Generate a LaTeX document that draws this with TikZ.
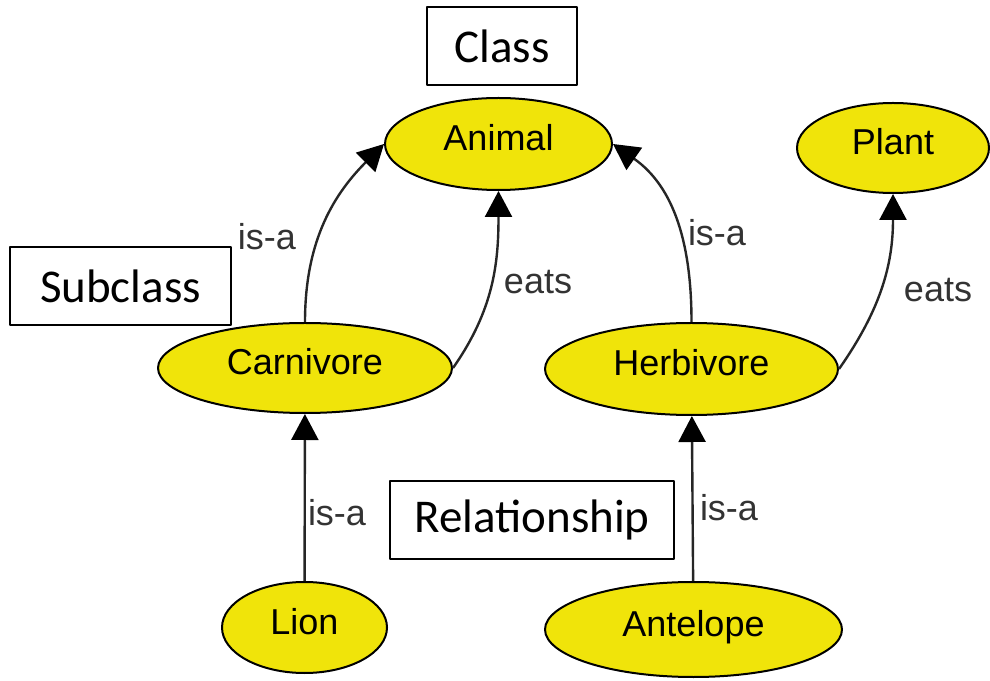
\documentclass[tikz,border=0pt]{standalone}
\usepackage{fontspec}
\setmainfont{Liberation Sans}
\newfontfamily\calloutfont{Carlito}
\usetikzlibrary{%
  arrows.meta,%
  shapes.geometric% wg. ellipse
}
\definecolor{conceptyellow}{RGB}{240,228,10}

\begin{document}
\begin{tikzpicture}[
    x=0.5pt,y=0.5pt,
    >={Triangle[length=13pt,width=13.5pt,color=black]},
    line join=round,
    concept/.style={ellipse,draw,line width=1pt,fill=conceptyellow,inner sep=0pt,
        font=\fontsize{18pt}{20pt}\selectfont,text height=13pt,text depth=6pt},
    relation/.style={->,line width=1.2pt,draw=black!85},
    rellabel/.style={font=\fontsize{18pt}{20pt}\selectfont,text=black!80},
    callout/.style={rectangle,draw,line width=0.8pt,fill=white,inner sep=0pt,
        minimum height=39pt,font=\calloutfont\fontsize{23.5pt}{26pt}\selectfont}
  ]
    \useasboundingbox (0,0) rectangle (990,680);

    % concepts
    \node (animal) [concept,minimum width=113.5pt,minimum height=46pt] at (498.5,536) {Animal};
    \node (plant)  [concept,minimum width=96pt,minimum height=45pt]    at (893,532)   {Plant};
    \node (carn)   [concept,minimum width=147pt,minimum height=45pt]   at (305,312)   {Carnivore};
    \node (herb)   [concept,minimum width=146.5pt,minimum height=46pt] at (691.5,311) {Herbivore};
    \node (lion)   [concept,minimum width=82.5pt,minimum height=45.5pt] at (304.5,52.5) {Lion};
    \node (ante)   [concept,minimum width=148.5pt,minimum height=47.5pt] at (693.5,50.5) {Antelope};

    \begin{scope}[relation]
        \draw (carn.north) to[out=90,in=225] (animal.west);
        \draw (carn.east)  to[out=55,in=-90] (animal.south);
        \draw (herb.north) to[out=90,in=-35] (animal.east);
        \draw (herb.east)  to[out=55,in=-90] (plant.south);
        \draw (lion) -- (carn);
        \draw (ante) -- (herb);
    \end{scope}

    \node (isa1)  [rellabel] at (267,443) {is-a};
    \node (eats1) [rellabel] at (538,398) {eats};
    \node (isa2)  [rellabel] at (717,447) {is-a};
    \node (eats2) [rellabel] at (938,390) {eats};
    \node (isa3)  [rellabel] at (337,167) {is-a};
    \node (isa4)  [rellabel] at (729,172) {is-a};

    % the callouts
    \node (class)    [callout,minimum width=75pt]    at (502,634)   {Class};
    \node (subclass) [callout,minimum width=110.5pt] at (120.5,394) {Subclass};
    \node (relship)  [callout,minimum width=142pt]   at (532,160)   {Relationship};
\end{tikzpicture}
\end{document}
